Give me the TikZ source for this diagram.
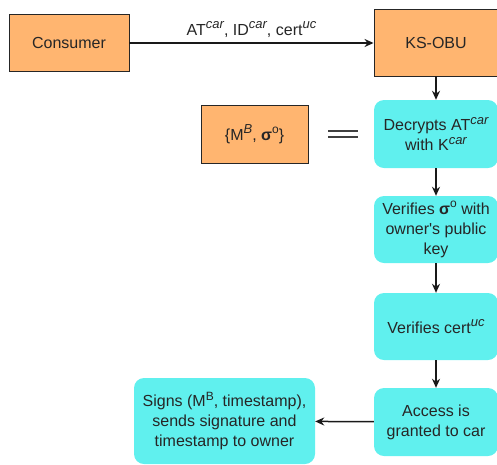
\documentclass[tikz,border=0pt]{standalone}
\usepackage{fontspec}
\setmainfont{Liberation Sans}
\newfontfamily\nomapfont{Liberation Sans}[Ligatures=TeXOff]
\usetikzlibrary{arrows.meta}
\definecolor{orangefill}{HTML}{FFB570}
\definecolor{cyanfill}{HTML}{60F0EE}
\definecolor{txt}{HTML}{262626}
\newcommand{\supit}[1]{\raisebox{0.4em}{\fontsize{13}{13}\selectfont\itshape #1}}
\newcommand{\supup}[1]{\raisebox{0.42em}{\fontsize{12}{12}\selectfont #1}}
\begin{document}
\begin{tikzpicture}[x=1pt,y=-1pt,
  every node/.style={font=\fontsize{16}{20}\selectfont, text=txt, align=center, inner sep=0pt},
  orangebox/.style={draw=black!85, line width=0.9pt, fill=orangefill},
  cyanbox/.style={fill=cyanfill, rounded corners=10pt},
  conn/.style={line width=1.5pt, draw=black!90, -{Stealth[length=9pt,width=8pt]}}]
\useasboundingbox (0,0) rectangle (497,464);
\node[orangebox, minimum width=120pt, minimum height=57pt] (cons) at (69,42.5) {Consumer};
\node[orangebox, minimum width=124pt, minimum height=67pt] (ks) at (436,42.5) {KS-OBU};
\node[orangebox, minimum width=107pt, minimum height=58pt] (mb) at (254.5,134) {\{M\supit{B}, \textbf{σ}\supup{o}\}};
\node[cyanbox, minimum width=124pt, minimum height=68pt] (dec) at (436,134) {Decrypts AT\supit{car}\\with K\supit{car}};
\node[cyanbox, minimum width=124pt, minimum height=67pt] (ver) at (436,229.5) {Verifies \textbf{σ}\supup{o} with\\owner{\nomapfont '}s public\\key};
\node[cyanbox, minimum width=124pt, minimum height=67pt] (cert) at (436,326.5) {Verifies cert\supit{uc}};
\node[cyanbox, minimum width=124pt, minimum height=68pt] (acc) at (436,422) {Access is\\granted to car};
\node[cyanbox, minimum width=181pt, minimum height=86pt] (sig) at (224.5,421) {Signs (M\supup{B}, timestamp),\\sends signature and\\timestamp to owner};
\coordinate (eqa) at (328,131);
\coordinate (eqb) at (358,131);
\coordinate (eqc) at (328,137);
\coordinate (eqd) at (358,137);
\draw[line width=1.4pt, black!75] (eqa) -- (eqb);
\draw[line width=1.4pt, black!75] (eqc) -- (eqd);
\draw[conn] (cons.east |- 0,43) -- node[above=5pt] {AT\supit{car}, ID\supit{car}, cert\supit{uc}} (ks.west |- 0,43);
\draw[conn] (ks) -- (dec);
\draw[conn] (dec) -- (ver);
\draw[conn] (ver) -- (cert);
\draw[conn] (cert) -- (acc);
\draw[conn] (acc) -- (sig);
\end{tikzpicture}
\end{document}
